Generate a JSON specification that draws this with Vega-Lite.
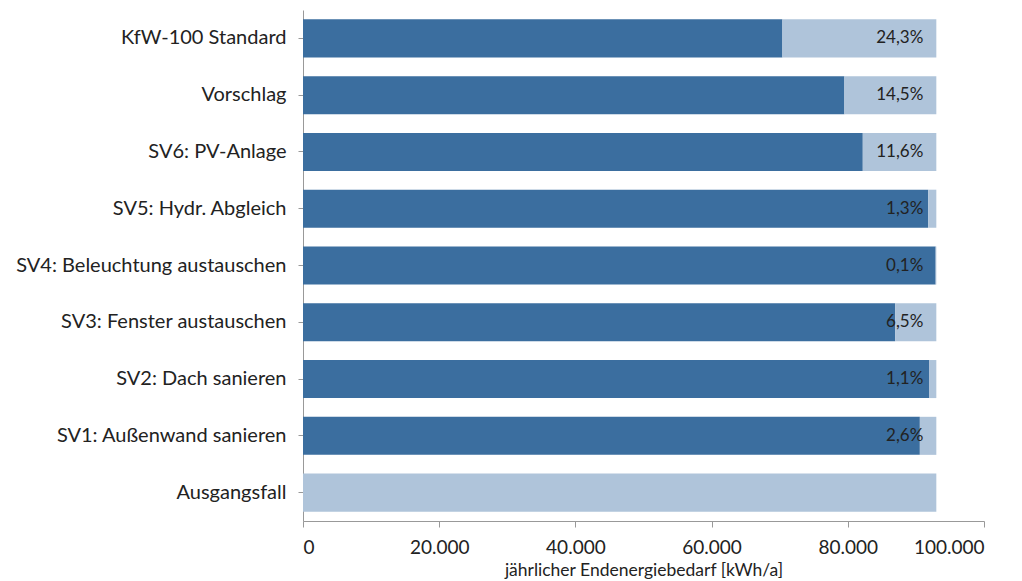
{
  "$schema": "https://vega.github.io/schema/vega-lite/v6.json",
  "autosize": "none",
  "width": 681,
  "height": 511,
  "padding": {"left": 303, "top": 10, "right": 38, "bottom": 60},
  "background": "white",
  "config": {"view": {"stroke": null}, "font": "Lato"},
  "datasets": {
    "bars": [
      {"Fall": "KfW-100 Standard", "Teil": "Bedarf", "o": 1, "Wert": 70400},
      {"Fall": "KfW-100 Standard", "Teil": "Einsparung", "o": 2, "Wert": 22600},
      {"Fall": "Vorschlag", "Teil": "Bedarf", "o": 1, "Wert": 79500},
      {"Fall": "Vorschlag", "Teil": "Einsparung", "o": 2, "Wert": 13500},
      {"Fall": "SV6: PV-Anlage", "Teil": "Bedarf", "o": 1, "Wert": 82200},
      {"Fall": "SV6: PV-Anlage", "Teil": "Einsparung", "o": 2, "Wert": 10800},
      {"Fall": "SV5: Hydr. Abgleich", "Teil": "Bedarf", "o": 1, "Wert": 91800},
      {"Fall": "SV5: Hydr. Abgleich", "Teil": "Einsparung", "o": 2, "Wert": 1200},
      {"Fall": "SV4: Beleuchtung austauschen", "Teil": "Bedarf", "o": 1, "Wert": 92900},
      {"Fall": "SV4: Beleuchtung austauschen", "Teil": "Einsparung", "o": 2, "Wert": 100},
      {"Fall": "SV3: Fenster austauschen", "Teil": "Bedarf", "o": 1, "Wert": 86950},
      {"Fall": "SV3: Fenster austauschen", "Teil": "Einsparung", "o": 2, "Wert": 6050},
      {"Fall": "SV2: Dach sanieren", "Teil": "Bedarf", "o": 1, "Wert": 91980},
      {"Fall": "SV2: Dach sanieren", "Teil": "Einsparung", "o": 2, "Wert": 1020},
      {"Fall": "SV1: Außenwand sanieren", "Teil": "Bedarf", "o": 1, "Wert": 90580},
      {"Fall": "SV1: Außenwand sanieren", "Teil": "Einsparung", "o": 2, "Wert": 2420},
      {"Fall": "Ausgangsfall", "Teil": "Bedarf", "o": 1, "Wert": 0},
      {"Fall": "Ausgangsfall", "Teil": "Einsparung", "o": 2, "Wert": 93000}
    ],
    "labels": [
      {"Fall": "KfW-100 Standard", "Gesamt": 93000, "Text": "24,3%"},
      {"Fall": "Vorschlag", "Gesamt": 93000, "Text": "14,5%"},
      {"Fall": "SV6: PV-Anlage", "Gesamt": 93000, "Text": "11,6%"},
      {"Fall": "SV5: Hydr. Abgleich", "Gesamt": 93000, "Text": "1,3%"},
      {"Fall": "SV4: Beleuchtung austauschen", "Gesamt": 93000, "Text": "0,1%"},
      {"Fall": "SV3: Fenster austauschen", "Gesamt": 93000, "Text": "6,5%"},
      {"Fall": "SV2: Dach sanieren", "Gesamt": 93000, "Text": "1,1%"},
      {"Fall": "SV1: Außenwand sanieren", "Gesamt": 93000, "Text": "2,6%"}
    ]
  },
  "layer": [
    {
      "data": {"name": "bars"},
      "mark": {"type": "bar"},
      "encoding": {
        "y": {
          "field": "Fall", "type": "nominal",
          "sort": ["KfW-100 Standard", "Vorschlag", "SV6: PV-Anlage", "SV5: Hydr. Abgleich", "SV4: Beleuchtung austauschen", "SV3: Fenster austauschen", "SV2: Dach sanieren", "SV1: Außenwand sanieren", "Ausgangsfall"],
          "scale": {"paddingInner": 0.33, "paddingOuter": 0.165},
          "axis": {
            "title": null, "labelFont": "Lato", "labelFontSize": 20, "labelColor": "#222222",
            "labelPadding": 12, "tickSize": 5, "tickColor": "#999999", "domainColor": "#999999",
            "labelLimit": 400
          }
        },
        "x": {
          "field": "Wert", "type": "quantitative", "stack": "zero",
          "scale": {"domain": [0, 100000], "nice": false},
          "axis": {
            "title": "jährlicher Endenergiebedarf [kWh/a]", "titleFont": "Lato", "titleFontSize": 17.5,
            "titleFontWeight": "normal", "titleColor": "#222222", "titlePadding": 4,
            "values": [0, 20000, 40000, 60000, 80000, 100000],
            "labelExpr": "replace(format(datum.value, ',d'), ',', '.')",
            "labelFont": "Lato", "labelFontSize": 19, "labelColor": "#222222", "labelPadding": 11,
            "tickSize": 6, "tickColor": "#999999", "domainColor": "#999999", "grid": false
          }
        },
        "color": {
          "field": "Teil", "type": "nominal",
          "scale": {"domain": ["Bedarf", "Einsparung"], "range": ["#3B6E9F", "#AFC4DA"]},
          "legend": null
        },
        "order": {"field": "o", "type": "quantitative"}
      }
    },
    {
      "data": {"name": "labels"},
      "mark": {"type": "text", "align": "right", "baseline": "middle", "dx": -13, "font": "Lato", "fontSize": 17, "color": "#222222"},
      "encoding": {
        "y": {"field": "Fall", "type": "nominal", "sort": ["KfW-100 Standard", "Vorschlag", "SV6: PV-Anlage", "SV5: Hydr. Abgleich", "SV4: Beleuchtung austauschen", "SV3: Fenster austauschen", "SV2: Dach sanieren", "SV1: Außenwand sanieren", "Ausgangsfall"]},
        "x": {"field": "Gesamt", "type": "quantitative"},
        "text": {"field": "Text"}
      }
    }
  ]
}
